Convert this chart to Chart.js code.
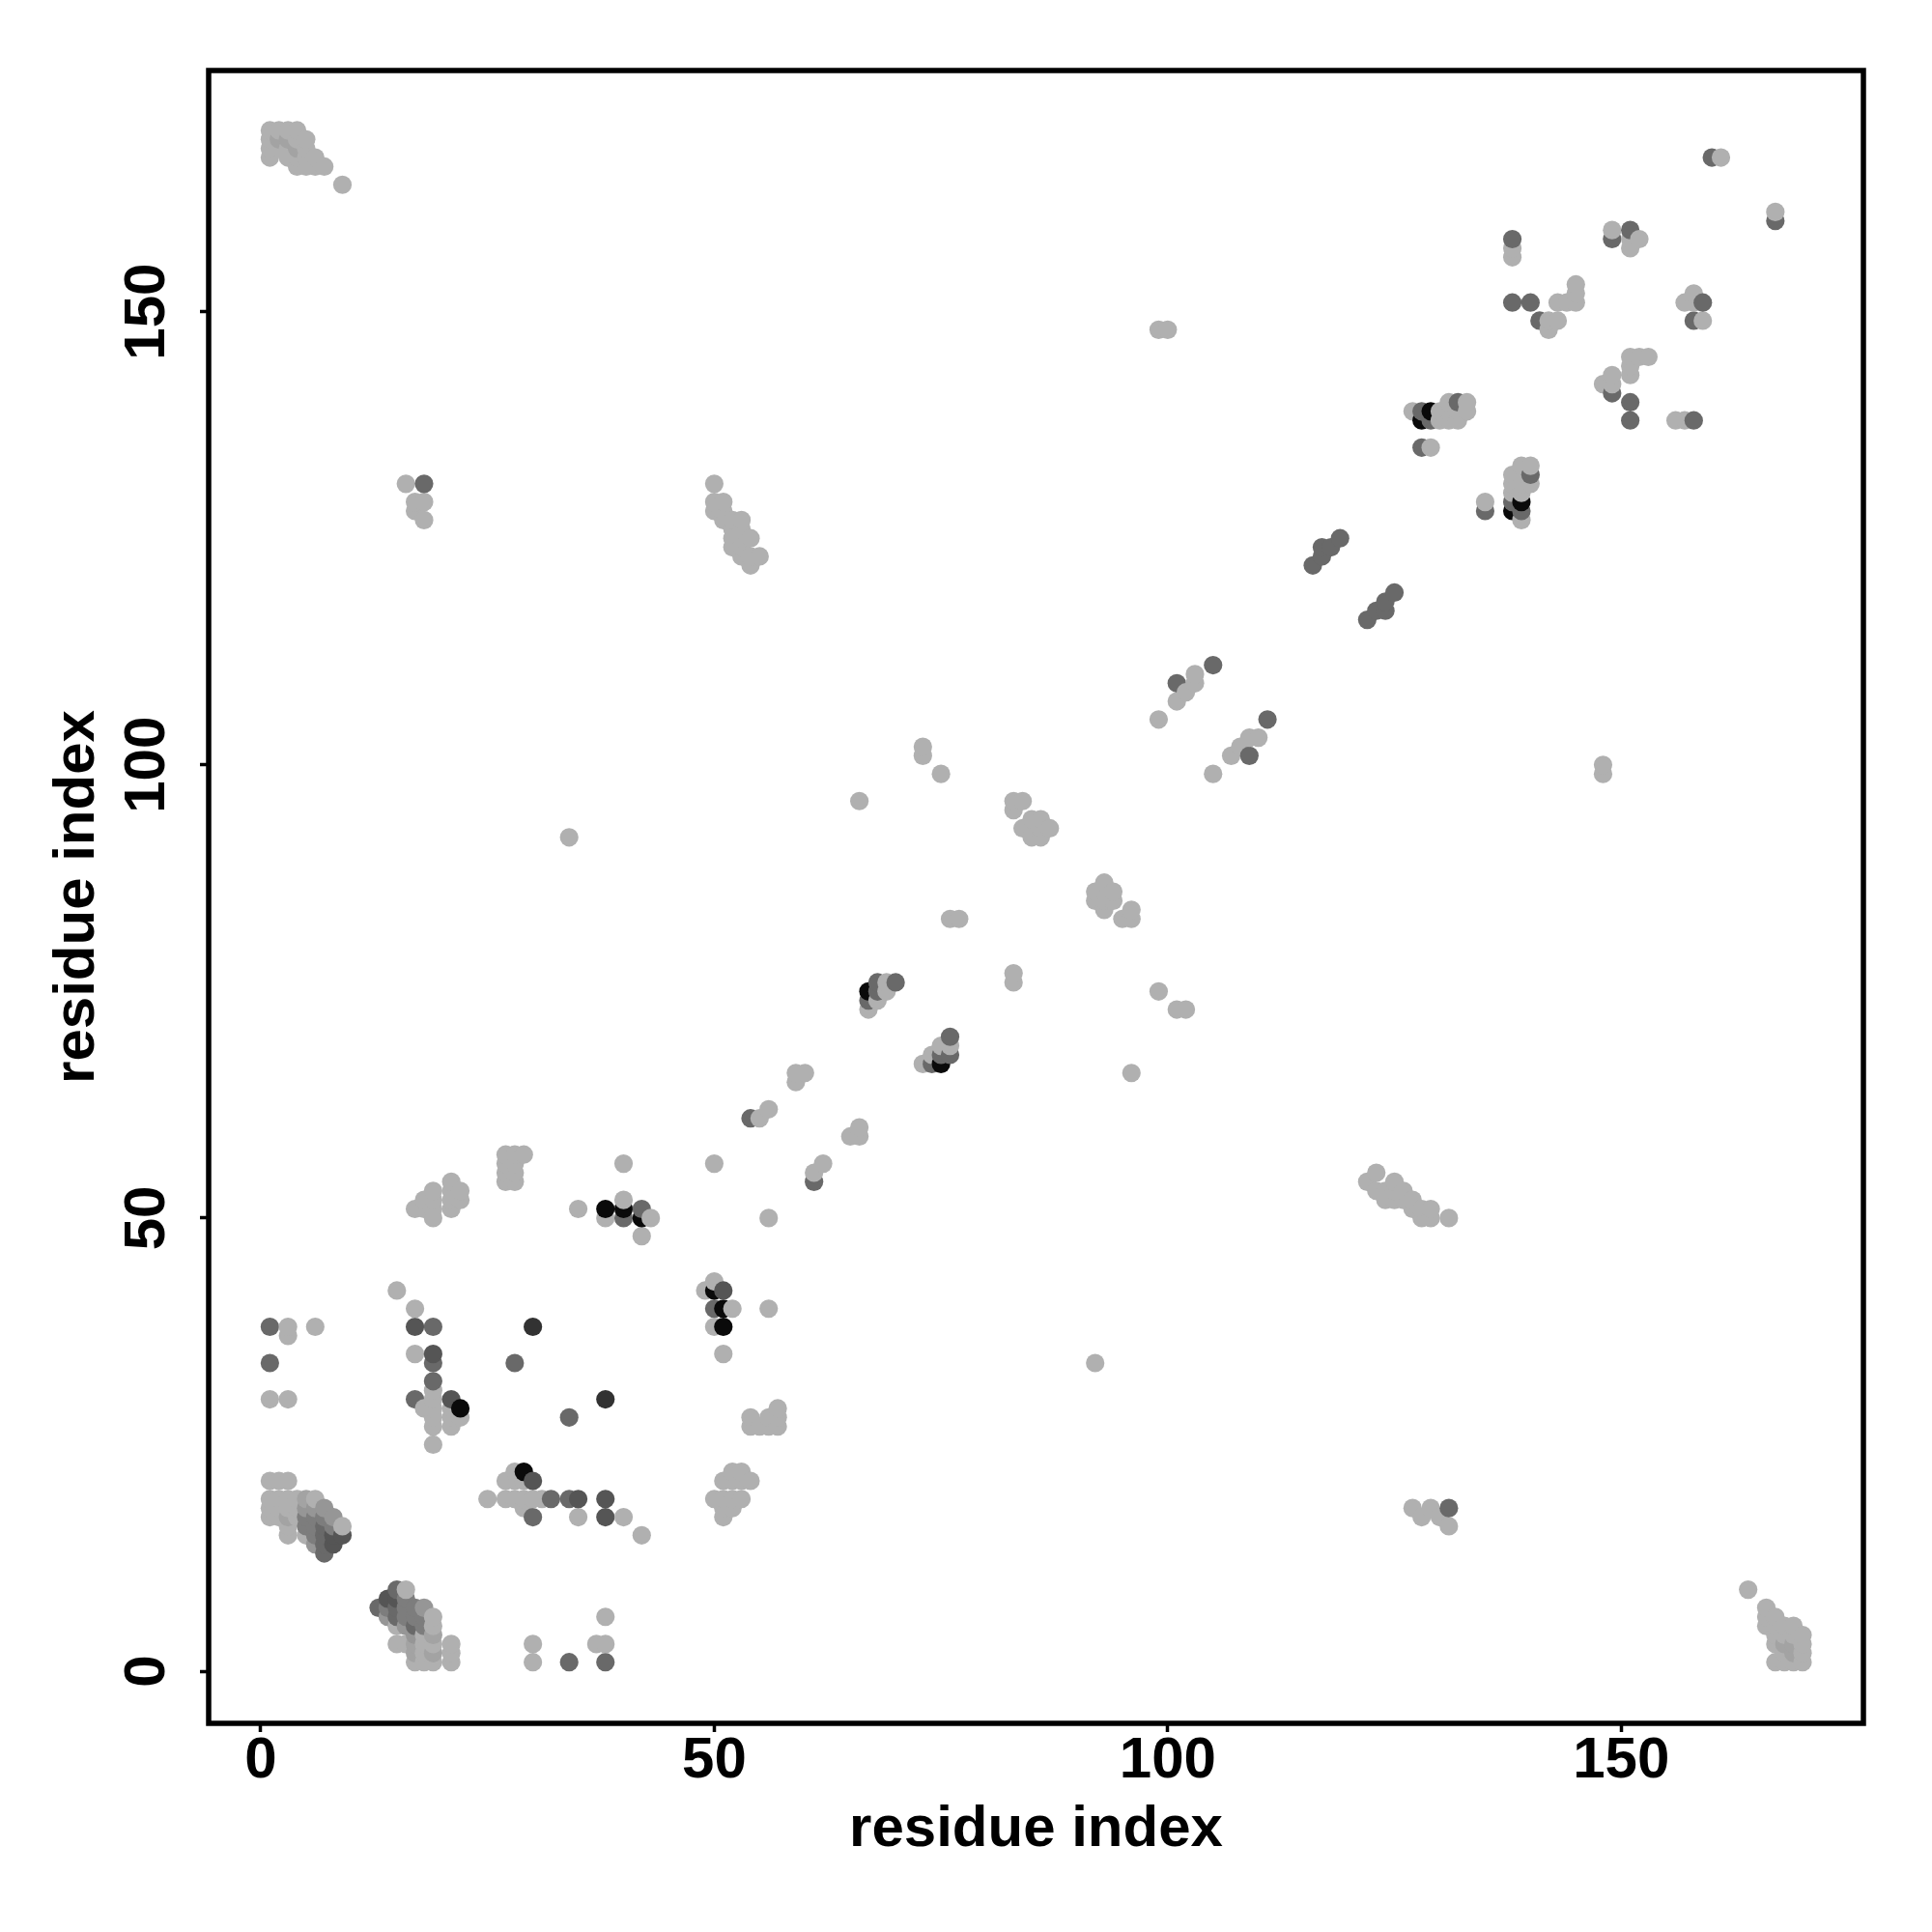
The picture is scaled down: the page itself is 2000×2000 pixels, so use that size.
<!DOCTYPE html>
<html>
<head>
<meta charset="utf-8">
<title>residue contacts</title>
<script src="https://cdn.jsdelivr.net/npm/chart.js@4"></script>
<style>
  html, body { margin: 0; background: #fff; }
  canvas { display: block; }
</style>
</head>
<body>
<canvas id="contactChart" width="2000" height="2000"></canvas>
<script>
// tick positions, same on both axes
const tickValues = [0, 50, 100, 150];
const axisLabel = 'residue index';

// contacts as [residue, residue], grouped by how dark the dot is
const lightContacts = [
  [1,21],[2,21],[3,21],[1,19],[2,19],[3,19],[4,19],[6,19],[1,18],[2,18],[3,18],[4,18],[1,17],[2,17],[4,17],[3,16],[3,15],[5,15],[9,16],
  [16,9],[15,3],[16,3],[19,6],[15,5],[19,5],[19,3],[19,1],[18,4],[18,3],[18,2],[18,1],[17,1],[21,3],[21,2],[21,1],
  [3,38],[3,37],[6,38],[15,42],[17,40],[17,35],[1,30],[3,30],
  [19,31],[19,30],[19,29],[19,28],[19,27],[18,29],[19,25],[21,29],[21,28],[21,27],[22,28],
  [17,51],[18,52],[18,51],[19,53],[19,52],[19,51],[19,50],[21,54],[21,53],[21,52],[21,51],[22,53],[22,52],
  [27,57],[28,57],[29,57],[27,56],[28,56],[27,55],[28,55],[27,54],[28,54],
  [40,56],[50,56],[35,51],[38,50],[40,52],[43,50],[42,48],[56,50],
  [49,42],[50,43],[52,40],[50,38],[51,35],[56,40],
  [54,28],[54,27],[55,27],[56,27],[56,28],[57,28],[57,29],[57,27],
  [52,22],[53,22],[51,21],[52,21],[53,21],[54,21],[50,19],[51,19],[52,19],[53,19],[51,18],[52,18],[51,17],
  [25,19],[27,19],[28,19],[29,19],[30,19],[31,19],[35,17],[40,17],[29,18],[42,15],[28,22],[27,21],[28,21],[29,21],
  [30,3],[30,1],[37,3],[38,3],[38,6],
  [1,170],[2,170],[3,170],[4,170],[1,169],[4,169],[5,169],[1,168],[2,168],[3,168],[5,168],
  [1,167],[3,167],[4,167],[5,167],[6,167],[4,166],[5,166],[6,166],[7,166],[9,164],
  [164,9],[166,7],[166,6],[166,5],[167,6],[167,5],[167,4],[167,3],[167,1],[168,5],[168,4],[168,2],[168,1],
  [169,5],[169,4],[169,1],[170,4],[170,3],[170,2],[170,1],
  [16,131],[17,129],[18,129],[17,128],[18,127],[34,92],[66,96],[73,102],[73,101],[75,99],[76,83],[77,83],[83,77],[83,76],
  [99,75],[101,73],[102,73],[96,66],[55,61],[56,62],[59,65],[59,66],[60,66],[65,59],[66,59],[66,60],[61,55],[62,56],
  [99,105],[101,107],[102,108],[103,109],[103,110],[105,99],[107,101],[108,102],[109,103],[110,103],
  [148,100],[148,99],[99,148],[100,148],[92,34],
  [122,54],[123,55],[123,53],[124,53],[124,52],[125,54],[125,53],[125,52],[126,53],[126,52],[127,52],[127,51],[128,51],[128,50],[129,51],[129,50],[131,50],
  [127,18],[128,17],[129,18],[130,17],[131,16],
  [50,131],[50,129],[51,129],[50,128],[51,128],[51,127],[52,127],[53,127],[52,126],[53,126],[52,125],[53,125],[54,125],[52,124],[53,124],[53,123],[54,123],[55,123],[54,122],
  [69,76],[69,75],[68,74],[67,73],[75,69],[76,69],[74,68],[73,67],
  [83,96],[84,96],[83,95],[84,93],[85,94],[86,94],[85,93],[86,93],[87,93],[85,92],[86,92],
  [93,87],[92,86],[93,86],[94,86],[92,85],[93,85],[94,85],[93,84],[96,84],[95,83],[96,83],
  [161,167],[167,161],[138,157],[138,156],[149,159],[152,158],[151,158],[151,157],
  [143,151],[144,151],[145,151],[145,152],[145,153],[142,149],[143,149],[142,148],
  [157,151],[158,152],[158,151],[159,149],[151,145],[152,145],[153,145],[151,144],[151,143],
  [149,143],[148,142],[149,142],[156,138],[157,138],
  [127,139],[130,139],[130,138],[131,140],[131,139],[131,138],[132,139],[132,138],[133,140],[133,139],
  [129,135],[135,129],[139,133],[140,133],[138,132],[139,132],[138,131],[139,131],[140,131],[138,130],[139,130],[139,127]
];
const softContacts = [
  [2,169],[3,169],[4,168],[168,3],[169,3],[169,2],[3,17],[5,19],[17,3],[17,2],[19,4],[19,2]
];
const paleContacts = [
  [5,18],[6,18],[7,18],[8,17],[6,14],[18,7],[16,5],[17,4],[14,6]
];
const greyContacts = [
  [5,17],[5,16],[6,17],[7,17],[6,16],[6,15],[8,16],[16,8],[14,7],[16,7],[17,7],[16,6],[17,6],[18,6],[18,5]
];
const midContacts = [
  [7,16],[7,15],[7,14],[7,13],[15,9],[13,7],[15,7],[15,6],[17,5],
  [1,38],[19,38],[1,34],[19,34],[28,34],[17,30],[19,32],[34,28],[32,19],[34,19],[30,17],[34,1],[38,1],
  [42,51],[40,50],[50,40],[68,76],[68,75],[67,74],[70,76],[76,70],[75,68],[76,68],[74,67],
  [54,61],[61,54],[101,109],[105,111],[109,101],[111,105],
  [116,122],[117,123],[117,124],[118,124],[119,125],[122,116],[123,117],[124,117],[124,118],[125,119],
  [18,131],[160,167],[167,160],[138,158],[149,158],[151,159],[138,151],[140,151],[141,149],[159,151],[158,149],
  [149,141],[151,140],[151,138],[158,138],[128,139],[129,138],[132,140],[128,135],[135,128],[140,132],[138,129],[139,128],[131,18]
];
const darkContacts = [
  [8,15],[8,14],[9,15],[14,8],[15,8],[17,38],[19,35],[21,30],[30,21],[35,19],[38,19],[38,17],[51,42]
];
const darkerContacts = [[30,38],[38,30]];
const blackContacts = [
  [22,29],[29,22],[38,51],[40,51],[42,50],[50,42],[51,40],[51,38],[67,75],[75,67],[128,138],[129,139],[139,129],[138,128]
];

const contactGroups = [
  { points: lightContacts, colour: '#b0b0b0' },
  { points: softContacts, colour: '#a3a3a3' },
  { points: paleContacts, colour: '#969696' },
  { points: greyContacts, colour: '#7d7d7d' },
  { points: midContacts, colour: '#696969' },
  { points: darkContacts, colour: '#555555' },
  { points: darkerContacts, colour: '#323232' },
  { points: blackContacts, colour: '#0a0a0a' }
];

// the dots overlap in residue order, later ones on top
const contactPoints = contactGroups
  .flatMap(group => group.points.map(p => ({ x: p[0], y: p[1], colour: group.colour })))
  .sort((a, b) => a.x - b.x || a.y - b.y);

const plotBox = {
  id: 'plotBox',
  afterDatasetsDraw(chart) {
    const { ctx, chartArea } = chart;
    ctx.save();
    ctx.strokeStyle = '#000';
    ctx.lineWidth = 5.5;
    ctx.strokeRect(chartArea.left, chartArea.top, chartArea.width, chartArea.height);
    ctx.restore();
  }
};

const tickFont = { family: '"Liberation Sans"', weight: 'bold', size: 60, lineHeight: 1 };

function useTickValues(scale) {
  scale.ticks = tickValues.map(value => ({ value: value }));
}

new Chart(document.getElementById('contactChart'), {
  type: 'scatter',
  data: {
    datasets: [{
      data: contactPoints,
      showLine: false,
      pointRadius: 9.6,
      pointHoverRadius: 9.6,
      pointBorderWidth: 0,
      pointBackgroundColor: ctx => ctx.raw ? ctx.raw.colour : '#b0b0b0'
    }]
  },
  options: {
    responsive: false,
    animation: false,
    layout: { padding: { top: 73, right: 71 } },
    plugins: {
      legend: { display: false },
      tooltip: { enabled: false }
    },
    scales: {
      x: {
        type: 'linear',
        min: -5.75,
        max: 176.71,
        afterBuildTicks: useTickValues,
        afterFit: scale => { scale.height = 216; },
        border: { display: false },
        grid: { drawOnChartArea: false, tickLength: 9, tickWidth: 3.5, tickColor: '#000' },
        ticks: { color: '#000', font: tickFont, padding: 0, autoSkip: false, maxRotation: 0, minRotation: 0 },
        title: {
          display: true,
          text: axisLabel,
          color: '#000',
          font: tickFont,
          padding: { top: 0, bottom: 76 }
        }
      },
      y: {
        type: 'linear',
        min: -5.75,
        max: 176.6,
        afterBuildTicks: useTickValues,
        afterFit: scale => { scale.width = 216; },
        border: { display: false },
        grid: { drawOnChartArea: false, tickLength: 9, tickWidth: 3.5, tickColor: '#000' },
        ticks: { color: '#000', font: tickFont, padding: 3, autoSkip: false, minRotation: 90, maxRotation: 90, crossAlign: 'center' },
        title: {
          display: true,
          text: axisLabel,
          color: '#000',
          font: tickFont,
          padding: { top: 50, bottom: 0 }
        }
      }
    }
  },
  plugins: [plotBox]
});
</script>
</body>
</html>
